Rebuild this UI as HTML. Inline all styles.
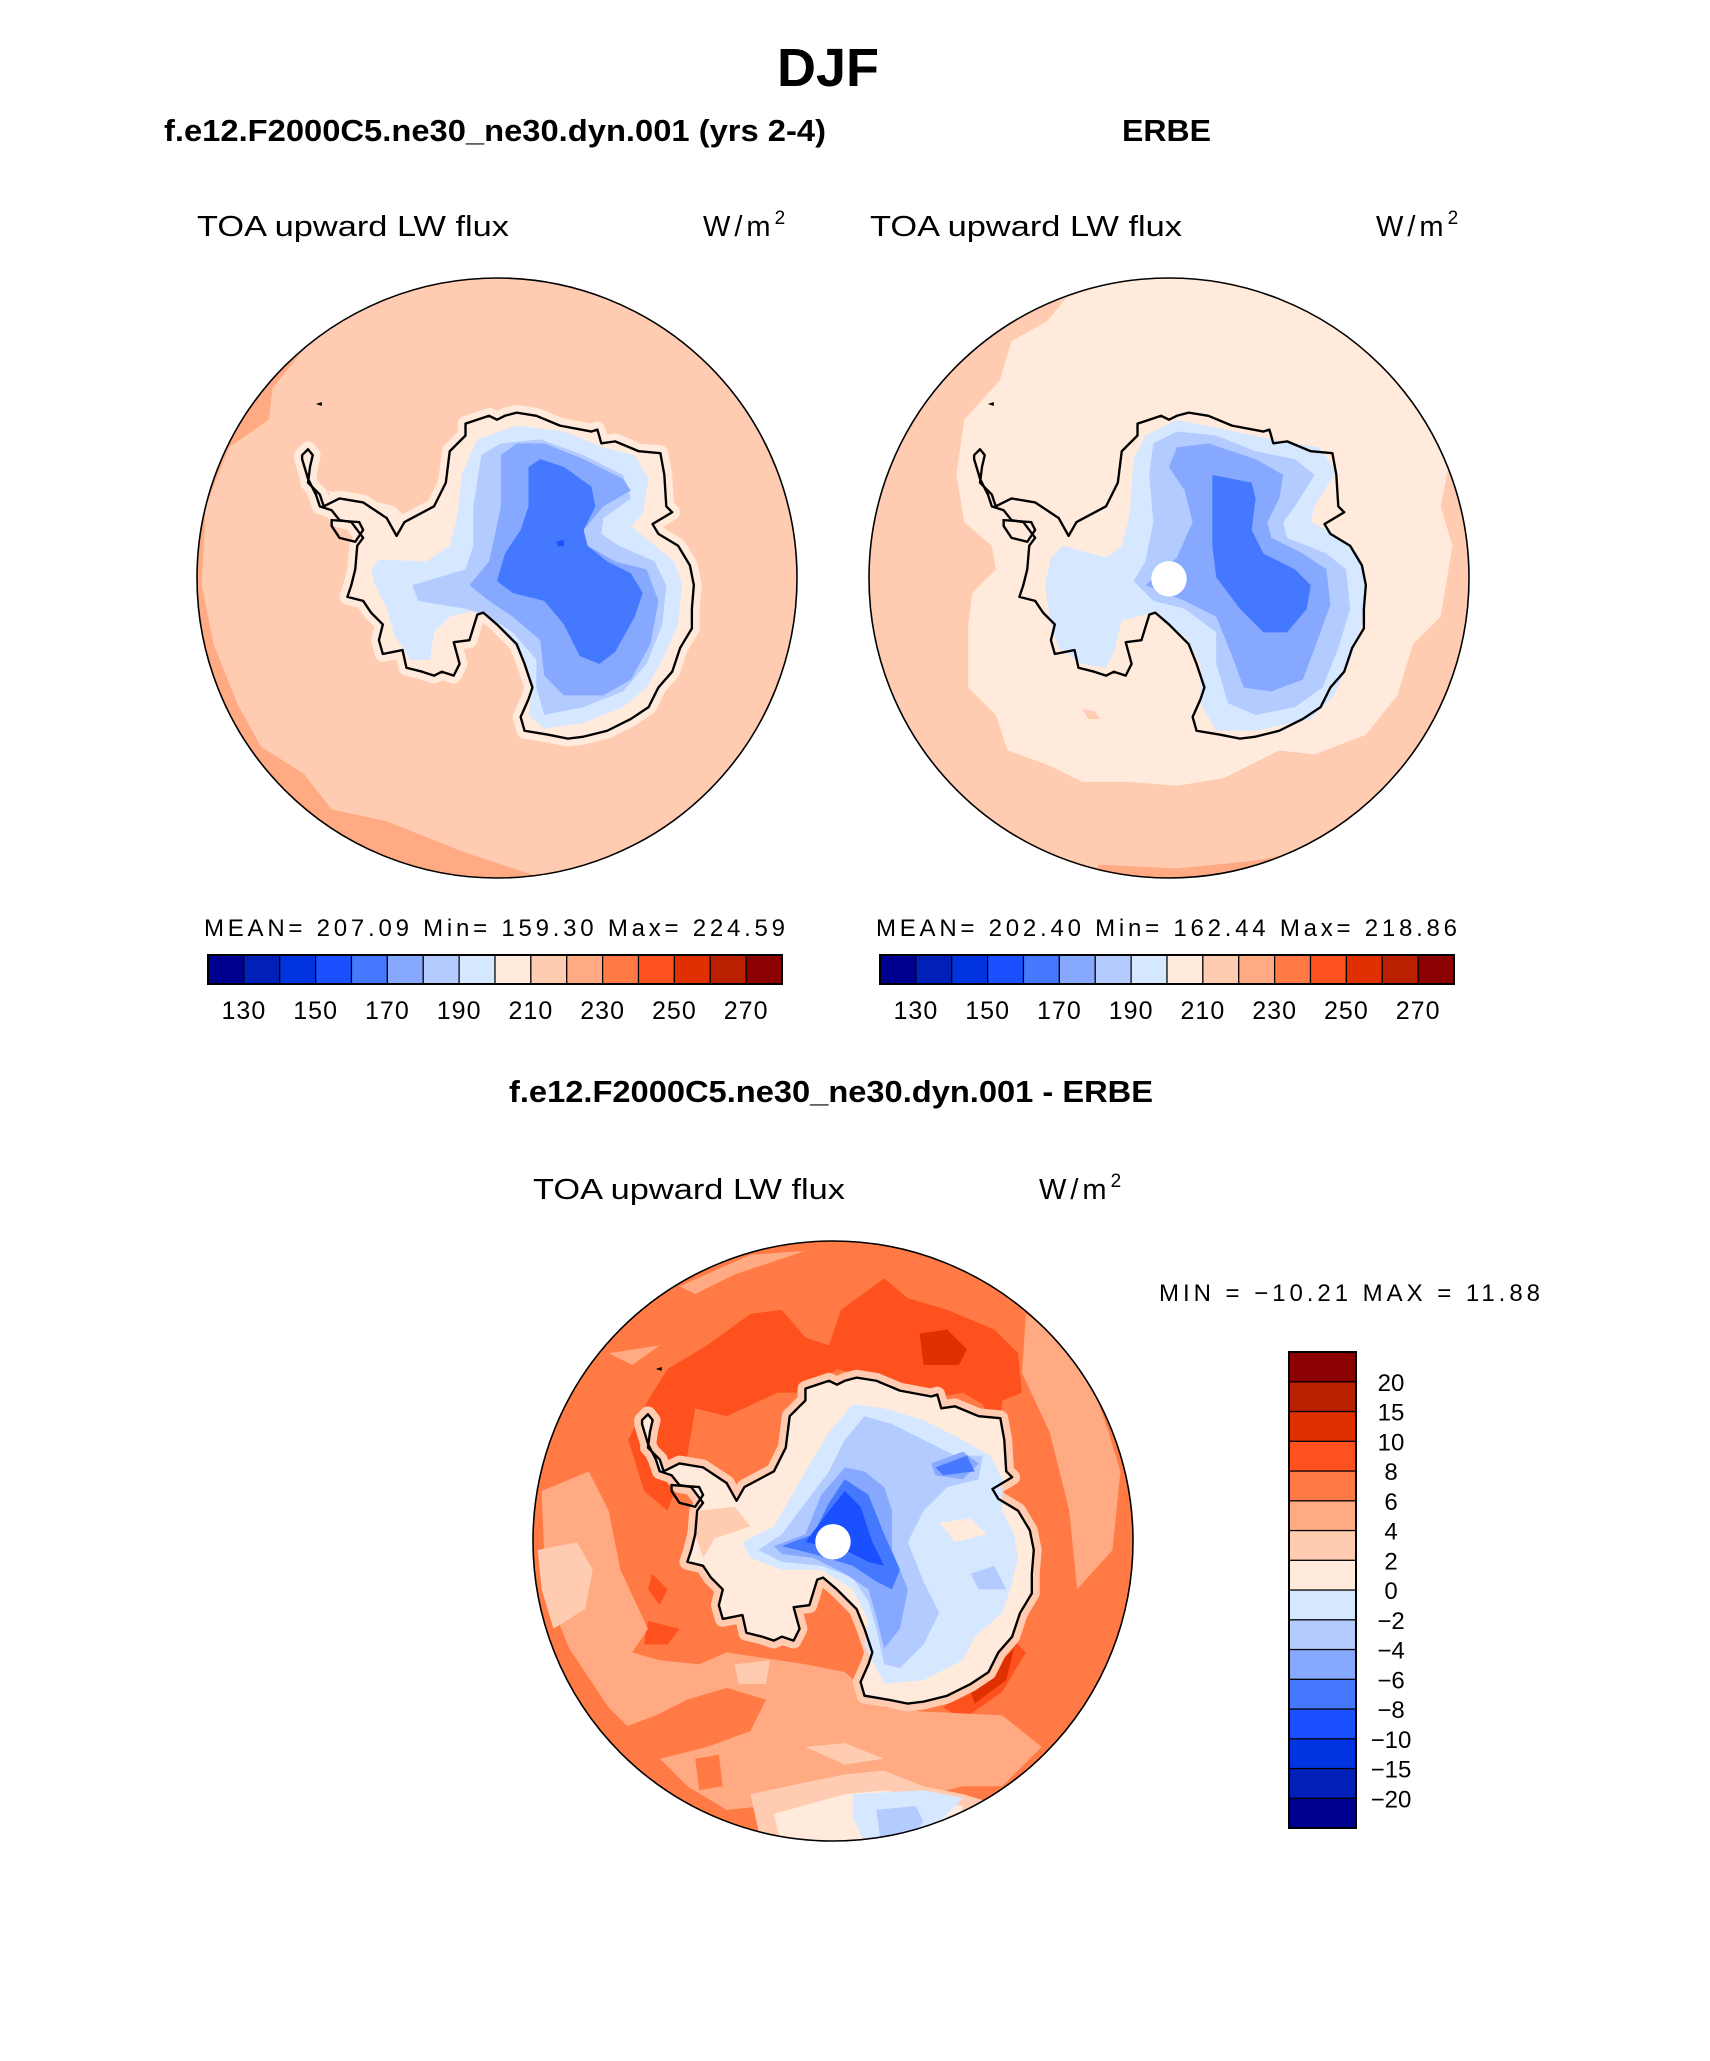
<!DOCTYPE html>
<html><head><meta charset="utf-8"><style>
html,body{margin:0;padding:0;background:#fff;}
svg{display:block;font-family:"Liberation Sans",sans-serif;}
</style></head><body>
<svg id="root" width="1710" height="2061" viewBox="0 0 1710 2061" xmlns="http://www.w3.org/2000/svg">
<rect width="1710" height="2061" fill="#fff"/>
<text x="828" y="86" font-size="54" font-weight="bold" text-anchor="middle">DJF</text>
<text x="164" y="141" font-size="31" font-weight="bold" textLength="662" lengthAdjust="spacingAndGlyphs">f.e12.F2000C5.ne30_ne30.dyn.001 (yrs 2-4)</text>
<text x="1122" y="141" font-size="31" font-weight="bold" textLength="89" lengthAdjust="spacingAndGlyphs">ERBE</text>
<text x="197" y="236" font-size="29" textLength="312" lengthAdjust="spacingAndGlyphs">TOA upward LW flux</text>
<text x="703" y="236" font-size="29" letter-spacing="4">W/m<tspan dy="-12" font-size="19">2</tspan></text>
<text x="870" y="236" font-size="29" textLength="312" lengthAdjust="spacingAndGlyphs">TOA upward LW flux</text>
<text x="1376" y="236" font-size="29" letter-spacing="4">W/m<tspan dy="-12" font-size="19">2</tspan></text>
<text x="204" y="936" font-size="24" textLength="581" lengthAdjust="spacing">MEAN= 207.09   Min= 159.30   Max= 224.59</text>
<text x="876" y="936" font-size="24" textLength="581" lengthAdjust="spacing">MEAN= 202.40   Min= 162.44   Max= 218.86</text>
<text x="509" y="1102" font-size="31" font-weight="bold" textLength="644" lengthAdjust="spacingAndGlyphs">f.e12.F2000C5.ne30_ne30.dyn.001 - ERBE</text>
<text x="533" y="1199" font-size="29" textLength="312" lengthAdjust="spacingAndGlyphs">TOA upward LW flux</text>
<text x="1039" y="1199" font-size="29" letter-spacing="4">W/m<tspan dy="-12" font-size="19">2</tspan></text>
<text x="1159" y="1301" font-size="24" textLength="381" lengthAdjust="spacing">MIN = −10.21 MAX =   11.88</text>
<g id="maps"></g>
<g id="bars"></g>
</svg>
<script>
// colour table shared by all panels (16 bins)
const binColors = ["#00008e","#0020b8","#0034e0","#1a50ff","#4479ff","#86a9ff","#b3cbff","#d6e8ff","#ffeadb","#ffcbb1","#ffaa82","#ff7a45","#ff511e","#e03000","#b82000","#8b0000"];
const absLevels = [130,140,150,160,170,180,190,200,210,220,230,240,250,260,270];
const absTickLabels = ["130","150","170","190","210","230","250","270"];
const diffLevels = [-20,-15,-10,-8,-6,-4,-2,0,2,4,6,8,10,15,20];
const diffTickLabels = ["−20","−15","−10","−8","−6","−4","−2","0","2","4","6","8","10","15","20"];

const NS="http://www.w3.org/2000/svg";
function mk(tag,attrs,parent){const e=document.createElementNS(NS,tag);for(const k in attrs)e.setAttribute(k,attrs[k]);parent.appendChild(e);return e;}

const bars=document.getElementById('bars');
function hbar(x0,x1,y0,y1,name){
  const g=mk('g',{},bars);
  
  
  const w=(x1-x0)/binColors.length;
  binColors.forEach((c,i)=>{
    const r=mk('rect',{x:x0+i*w,y:y0,width:w,height:y1-y0,fill:c,stroke:'#000','stroke-width':1.2},g);
    
    
  });
  mk('rect',{x:x0,y:y0,width:x1-x0,height:y1-y0,fill:'none',stroke:'#000','stroke-width':2},g);
  absLevels.forEach((lv,i)=>{
    const lab=String(lv);
    if(absTickLabels.indexOf(lab)<0)return;
    const t=mk('text',{x:x0+(i+1)*w,y:1019,'font-size':25,'text-anchor':'middle','letter-spacing':1},g);
    t.textContent=lab;
    
    
  });
}
hbar(208,782,955,984,'model-colorbar');
hbar(880,1454,955,984,'obs-colorbar');

(function(){
  const g=mk('g',{},bars);
  
  
  const x0=1289,x1=1356,y0=1352,y1=1828,n=binColors.length,h=(y1-y0)/n;
  binColors.forEach((c,i)=>{
    const r=mk('rect',{x:x0,y:y1-(i+1)*h,width:x1-x0,height:h,fill:c,stroke:'#000','stroke-width':1.2},g);
    
    
  });
  mk('rect',{x:x0,y:y0,width:x1-x0,height:y1-y0,fill:'none',stroke:'#000','stroke-width':2},g);
  diffLevels.forEach((lv,i)=>{
    const t=mk('text',{x:1391,y:y1-(i+1)*h+9,'font-size':24,'text-anchor':'middle'},g);
    t.textContent=diffTickLabels[i];
    
    
  });
})();

const coast="M285,470 L300,455 L312,470 L305,500 L300,540 L330,570 L340,600 L380,580 L440,590 L470,610 L500,630 L525,675 L545,640 L620,600 L650,540 L660,460 L700,420 L700,390 L760,370 L780,380 L800,370 L830,362 L880,370 L940,395 L1020,410 L1035,405 L1045,440 L1080,435 L1140,460 L1195,465 L1205,520 L1210,600 L1225,615 L1175,645 L1190,670 L1240,700 L1270,750 L1280,800 L1275,860 L1275,910 L1245,960 L1225,1020 L1190,1060 L1165,1110 L1120,1140 L1060,1170 L1000,1185 L960,1190 L910,1180 L850,1170 L840,1135 L860,1090 L870,1060 L850,1000 L830,950 L780,900 L745,870 L730,875 L710,940 L670,945 L685,1000 L670,1030 L640,1020 L620,1030 L590,1020 L550,1010 L540,965 L490,975 L480,940 L490,900 L460,870 L440,840 L400,830 L410,800 L420,760 L425,700 L440,680 L410,640 L380,635 L360,610 L330,600 L320,570 L300,530 L285,480 Z";
function P(a){return 'M'+a.map(p=>p.join(',')).join(' L')+' Z';}
const maps=document.getElementById('maps');
let clipId=0;
function drawMap(cx,cy,zx,zy,bg,layers,hasDot,name){
  const s=1/2.54;
  const g=mk('g',{transform:`translate(${cx},${cy}) scale(${s}) translate(${-zx},${-zy})`},maps);
  
  
  const id='clip'+(clipId++);
  const cp=mk('clipPath',{id:id},g);
  mk('circle',{cx:zx,cy:zy,r:762},cp);
  const inner=mk('g',{'clip-path':`url(#${id})`},g);
  mk('circle',{cx:zx,cy:zy,r:762,fill:bg},inner);
  layers.forEach(L=>{
    if(L.coast){
      mk('path',{d:coast,fill:L.c,stroke:L.c,'stroke-width':L.w||0,'stroke-linejoin':'round'},inner);
    } else {
      const p=mk('path',{d:P(L.p),fill:L.c,'stroke-linejoin':'round'},inner);
      
      
    }
  });
  const cl=mk('path',{d:coast,fill:'none',stroke:'#000','stroke-width':6,'stroke-linejoin':'round'},inner);
  
  
  mk('path',{d:"M320,340 L335,335 L335,345 Z",fill:'#000'},inner);
  mk('path',{d:"M360,635 L430,640 L440,660 L420,690 L380,680 L360,650 Z",fill:'none',stroke:'#000','stroke-width':6},inner);
  if(hasDot){
    const d=mk('circle',{cx:zx,cy:zy+2,r:45,fill:'#fff'},inner);
    
    
  }
  mk('circle',{cx:zx,cy:zy,r:762,fill:'none',stroke:'#000','stroke-width':4},g);
}
const C=binColors;
drawMap(497,578,780,782,C[9],[
 {c:C[10],p:[[290,200],[210,300],[200,380],[100,450],[40,600],[30,800],[60,950],[120,1100],[180,1210],[290,1280],[360,1370],[500,1400],[700,1480],[900,1545],[900,1700],[-100,1700],[-100,150]]},
 {coast:true,c:C[8],w:40},
 {c:C[8],p:[[350,560],[440,580],[520,600],[560,640],[600,600],[560,700],[440,700]]},
 {c:C[7],p:[[460,760],[480,735],[600,740],[660,700],[680,620],[690,520],[730,430],[830,395],[950,410],[1050,450],[1130,470],[1165,530],[1150,620],[1120,650],[1170,690],[1230,740],[1250,800],[1240,900],[1200,990],[1160,1060],[1100,1110],[1000,1150],[900,1165],[860,1130],[870,1060],[850,990],[800,920],[740,860],[660,880],[620,920],[610,990],[560,990],[520,930],[500,860],[470,800]]},
 {c:C[6],p:[[565,800],[600,790],[700,760],[720,700],[720,600],[740,470],[790,440],[890,430],[1000,470],[1100,520],[1120,580],[1050,630],[1045,670],[1090,700],[1180,740],[1210,800],[1200,900],[1160,1000],[1100,1070],[1000,1110],[900,1130],[880,1060],[880,990],[820,920],[760,880],[700,860],[580,840]]},
 {c:C[5],p:[[710,800],[760,740],[790,600],[790,470],[830,440],[900,440],[1000,480],[1100,530],[1120,560],[1050,600],[1000,660],[1010,700],[1080,740],[1160,760],[1190,840],[1170,950],[1120,1040],[1050,1080],[950,1080],[900,1030],[890,940],[820,880],[760,840]]},
 {c:C[4],p:[[780,790],[800,720],[840,660],[860,600],[860,500],[890,480],[950,500],[1020,550],[1030,600],[1000,660],[1010,700],[1060,740],[1120,770],[1150,820],[1130,880],[1080,970],[1040,1000],[990,980],[950,900],[900,840],[820,820]]},
 {c:C[3],p:[[930,690],[950,685],[950,700],[935,702]]}
],false,'model-map');
drawMap(1169,578,780,782,C[9],[
 {c:C[8],p:[[600,40],[520,70],[470,130],[380,180],[350,280],[260,380],[240,520],[260,640],[330,700],[340,760],[280,820],[270,900],[270,1060],[340,1130],[370,1220],[480,1260],[560,1300],[680,1300],[800,1310],[920,1290],[1060,1220],[1150,1230],[1280,1180],[1360,1080],[1400,950],[1470,880],[1500,700],[1470,600],[1490,500],[1460,400],[1380,300],[1310,240],[1200,130],[1000,40],[780,0]]},
 {c:C[10],p:[[600,1510],[800,1520],[1000,1500],[1100,1480],[1100,1700],[600,1700]]},
 {c:C[9],p:[[560,1115],[590,1120],[605,1140],[575,1140]]},
 {c:C[7],p:[[480,730],[510,700],[620,730],[660,700],[680,620],[690,480],[720,420],[800,380],[900,400],[1040,430],[1160,450],[1205,510],[1150,600],[1140,640],[1200,670],[1260,720],[1280,800],[1270,900],[1240,990],[1200,1080],[1140,1140],[1000,1170],[900,1170],[860,1100],[860,1000],[820,930],[740,870],[660,890],[640,970],[620,1010],[560,1000],[500,960],[480,900],[465,800]]},
 {c:C[6],p:[[690,790],[720,740],[740,640],[730,520],[740,440],[800,410],[900,420],[1000,460],[1100,480],[1150,520],[1100,600],[1070,640],[1080,680],[1180,720],[1230,760],[1240,860],[1210,960],[1170,1060],[1100,1110],[1000,1130],[930,1100],[900,1000],[900,920],[820,860],[740,840]]},
 {c:C[5],p:[[720,800],[800,730],[840,640],[820,560],[780,500],[800,450],[880,440],[1000,480],[1070,520],[1060,580],[1030,640],[1040,680],[1120,720],[1180,760],[1190,850],[1150,960],[1120,1040],[1040,1070],[970,1060],[940,980],[900,880],[820,840]]},
 {c:C[4],p:[[890,520],[990,540],[1000,580],[990,660],[1020,720],[1100,760],[1140,800],[1130,860],[1080,920],[1020,920],[960,860],[900,780],[890,700]]}
],true,'obs-map');
drawMap(833,1541,770,777,C[11],[
 {c:C[12],p:[[300,420],[350,340],[450,280],[560,200],[640,190],[700,260],[760,280],[790,190],[900,110],[960,160],[1060,190],[1180,240],[1240,300],[1250,400],[1200,420],[1190,520],[1150,430],[1100,400],[1000,420],[900,370],[780,340],[700,400],[630,400],[500,460],[420,440],[400,560],[350,700],[290,650],[250,520]]},
 {c:C[13],p:[[990,250],[1060,240],[1110,290],[1090,330],[1000,330]]},
 {c:C[12],p:[[1050,1200],[1150,1120],[1220,1020],[1260,1060],[1200,1160],[1100,1230]]},
 {c:C[13],p:[[1120,1160],[1200,1080],[1230,1050],[1210,1130],[1130,1190]]},
 {c:C[12],p:[[300,980],[380,1000],[350,1040],[290,1040]]},
 {c:C[12],p:[[310,860],[350,900],[330,940],[300,900]]},
 {c:C[10],p:[[30,650],[150,600],[200,700],[230,850],[300,1000],[260,1060],[330,1080],[430,1090],[500,1060],[700,1090],[800,1110],[900,1200],[1000,1210],[1200,1220],[1300,1300],[1200,1400],[1100,1400],[900,1450],[700,1440],[500,1460],[400,1400],[300,1300],[200,1200],[100,1050],[40,900]]},
 {c:C[11],p:[[240,1250],[320,1220],[400,1180],[500,1150],[600,1180],[560,1260],[450,1300],[330,1330]]},
 {c:C[11],p:[[420,1330],[480,1320],[490,1400],[430,1410]]},
 {c:C[10],p:[[1260,200],[1400,300],[1470,500],[1500,600],[1480,800],[1390,900],[1370,700],[1320,500],[1250,350]]},
 {c:C[10],p:[[380,130],[560,50],[700,40],[520,100],[420,150]]},
 {c:C[10],p:[[200,300],[330,280],[260,330]]},
 {c:C[9],p:[[20,800],[120,780],[160,850],[140,950],[60,1000],[30,900]]},
 {c:C[9],p:[[520,1090],[610,1080],[600,1140],[530,1140]]},
 {c:C[9],p:[[700,1300],[800,1290],[900,1330],[800,1345]]},
 {c:C[9],p:[[560,1420],[700,1390],[800,1370],[900,1360],[1000,1400],[1100,1420],[1200,1450],[1100,1600],[600,1600]]},
 {c:C[8],p:[[620,1470],[800,1420],[900,1410],[1100,1450],[1050,1600],[650,1600]]},
 {c:C[7],p:[[820,1420],[1000,1410],[1100,1430],[1050,1480],[880,1600],[820,1480]]},
 {c:C[6],p:[[880,1460],[980,1450],[1000,1490],[900,1600]]},
 {coast:true,c:C[9],w:40},
 {coast:true,c:C[8],w:0},
 {c:C[9],p:[[430,700],[520,690],[560,740],[470,770],[440,820],[420,760]]},
 {c:C[7],p:[[540,780],[620,740],[700,600],[760,500],[820,430],[900,440],[1000,470],[1100,520],[1170,560],[1200,620],[1200,700],[1230,760],[1240,820],[1220,900],[1200,960],[1130,1020],[1100,1080],[1000,1130],[900,1140],[850,1040],[860,980],[820,900],[740,850],[640,850],[560,820]]},
 {c:C[8],p:[[1040,730],[1120,720],[1160,760],[1080,780]]},
 {c:C[6],p:[[580,800],[640,760],[700,680],[760,600],[800,520],[850,460],[920,480],[1000,520],[1080,560],[1150,560],[1140,620],[1060,640],[1000,700],[960,780],[1000,880],[1040,960],[1000,1040],[940,1100],[900,1090],[880,1000],[860,930],[820,870],[740,840],[640,830]]},
 {c:C[6],p:[[1120,860],[1180,840],[1210,900],[1140,900]]},
 {c:C[5],p:[[620,790],[700,760],[740,660],[800,590],[850,600],[900,640],[920,700],[920,800],[960,900],[940,1000],[900,1050],[880,970],[860,900],[800,860],[720,820],[640,810]]},
 {c:C[5],p:[[1020,580],[1100,550],[1140,580],[1100,620],[1030,610]]},
 {c:C[4],p:[[640,790],[720,760],[760,680],[800,620],[860,660],[900,760],[940,850],[920,900],[880,880],[820,840],[720,810]]},
 {c:C[4],p:[[1030,590],[1110,560],[1130,600],[1050,610]]},
 {c:C[3],p:[[700,780],[760,700],[800,650],[840,690],[870,780],[900,840],[860,830],[800,800]]}
],true,'diff-map');
</script>
</body></html>
